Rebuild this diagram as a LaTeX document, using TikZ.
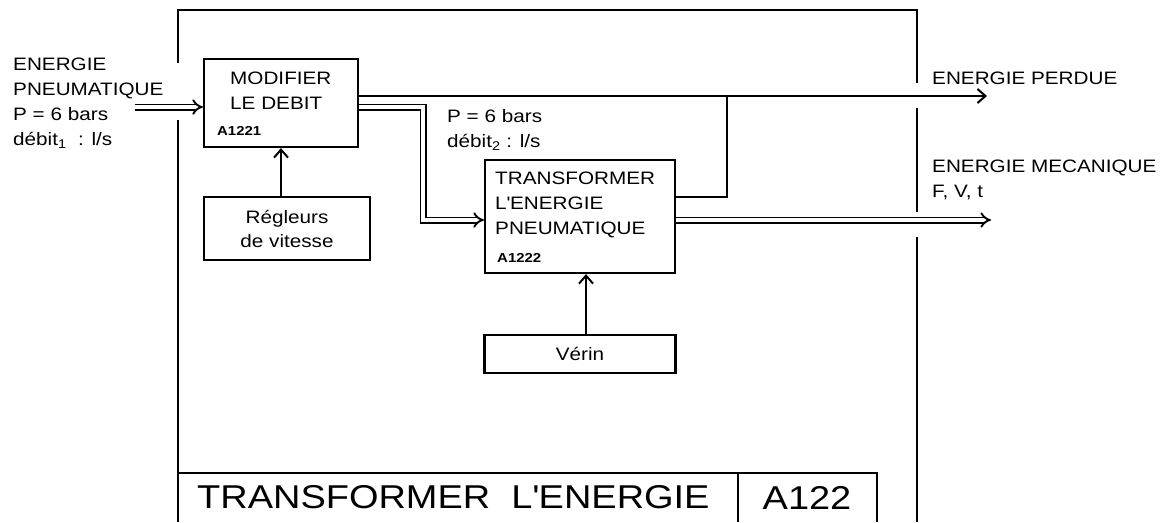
\documentclass[tikz,border=0pt]{standalone}
\usepackage{fontspec}
\setmainfont[FakeStretch=1.15]{Liberation Sans}
\usetikzlibrary{arrows.meta}

\begin{document}
\begin{tikzpicture}[
    x=1pt, y=-1pt,
    box/.style={draw, line width=2.2pt, inner sep=0pt, align=center, font=\fontsize{18}{24}\selectfont},
    txt/.style={inner sep=0pt, align=left, font=\fontsize{18}{25}\selectfont},
    code/.style={inner sep=0pt, font=\fontsize{13}{15}\selectfont\bfseries},
    big/.style={inner sep=0pt, font=\fontsize{33}{36}\selectfont},
    frame/.style={line width=2pt},
    line/.style={line width=2pt},
    arrow/.style={line width=2pt, -{Straight Barb[length=8pt,width=14pt]}},
    flux/.style={double, double distance=3.2pt, line width=1.9pt, -Implies}
]
\useasboundingbox (0,0) rectangle (1167,522);

% cadre
\draw[frame] (178,63) -- (178,10) -- (917,10) -- (917,83);
\draw[frame] (917,108) -- (917,212);
\draw[frame] (917,237) -- (917,522);
\draw[frame] (178,120) -- (178,522);
\draw[frame] (178,473) -- (877,473) -- (877,522);
\draw[frame] (738,473) -- (738,522);
\node[big, anchor=base west] (titre) at (197,508) {TRANSFORMER~~L\textquotesingle ENERGIE};
\node[big, anchor=base] (ref) at (807,509) {A122};

% boites
\node[box, minimum width=154pt, minimum height=88pt] (modif) at (281,103) {};
\node[txt, anchor=north west] (modiftxt) at (230,72) {MODIFIER\\LE DEBIT};
\node[code, anchor=base west] (modifcode) at (217,135) {A1221};
\node[box, minimum width=166pt, minimum height=63pt] (regl) at (287,228.5) {Régleurs\\de vitesse};
\node[box, minimum width=190pt, minimum height=113pt] (transf) at (580,216.5) {};
\node[txt, anchor=north west] (transftxt) at (495,172) {TRANSFORMER\\L\textquotesingle ENERGIE\\PNEUMATIQUE};
\node[code, anchor=base west] (transfcode) at (497,262) {A1222};
\node[box, minimum width=191pt, minimum height=38pt] (verin) at (580,354) {Vérin};

% etiquettes
\node[txt, anchor=north west] (entreetxt) at (13,58) {ENERGIE\\PNEUMATIQUE\\P = 6 bars\\débit\textsubscript{1}~ : l/s};
\node[txt, anchor=north west] (debit2) at (447,109) {P = 6 bars\\débit\textsubscript{2} : l/s};
\node[txt, anchor=base west] (perduetxt) at (932,84) {ENERGIE PERDUE};
\node[txt, anchor=north west] (mecatxt) at (932,160) {ENERGIE MECANIQUE\\F, V, t};

% liaisons
\coordinate (entree) at (135,107);
\coordinate (coude) at (423,107);
\coordinate (perdue) at (987,96);
\coordinate (jonction) at (727,96);
\coordinate (meca) at (991,220);
\draw[flux] (entree) -- (entree -| modif.west);
\draw[arrow] (modif.east |- perdue) -- (perdue);
\draw[flux] (modif.east |- coude) -- (coude) |- (transf.west |- meca);
\draw[line] (transf.east |- 0,197) -| (jonction);
\draw[flux] (transf.east |- meca) -- (meca);
\draw[arrow] (regl.north -| modif.south) -- (modif.south);
\draw[arrow] ([xshift=6pt]verin.north) -- ([xshift=6pt]transf.south);
\end{tikzpicture}
\end{document}
